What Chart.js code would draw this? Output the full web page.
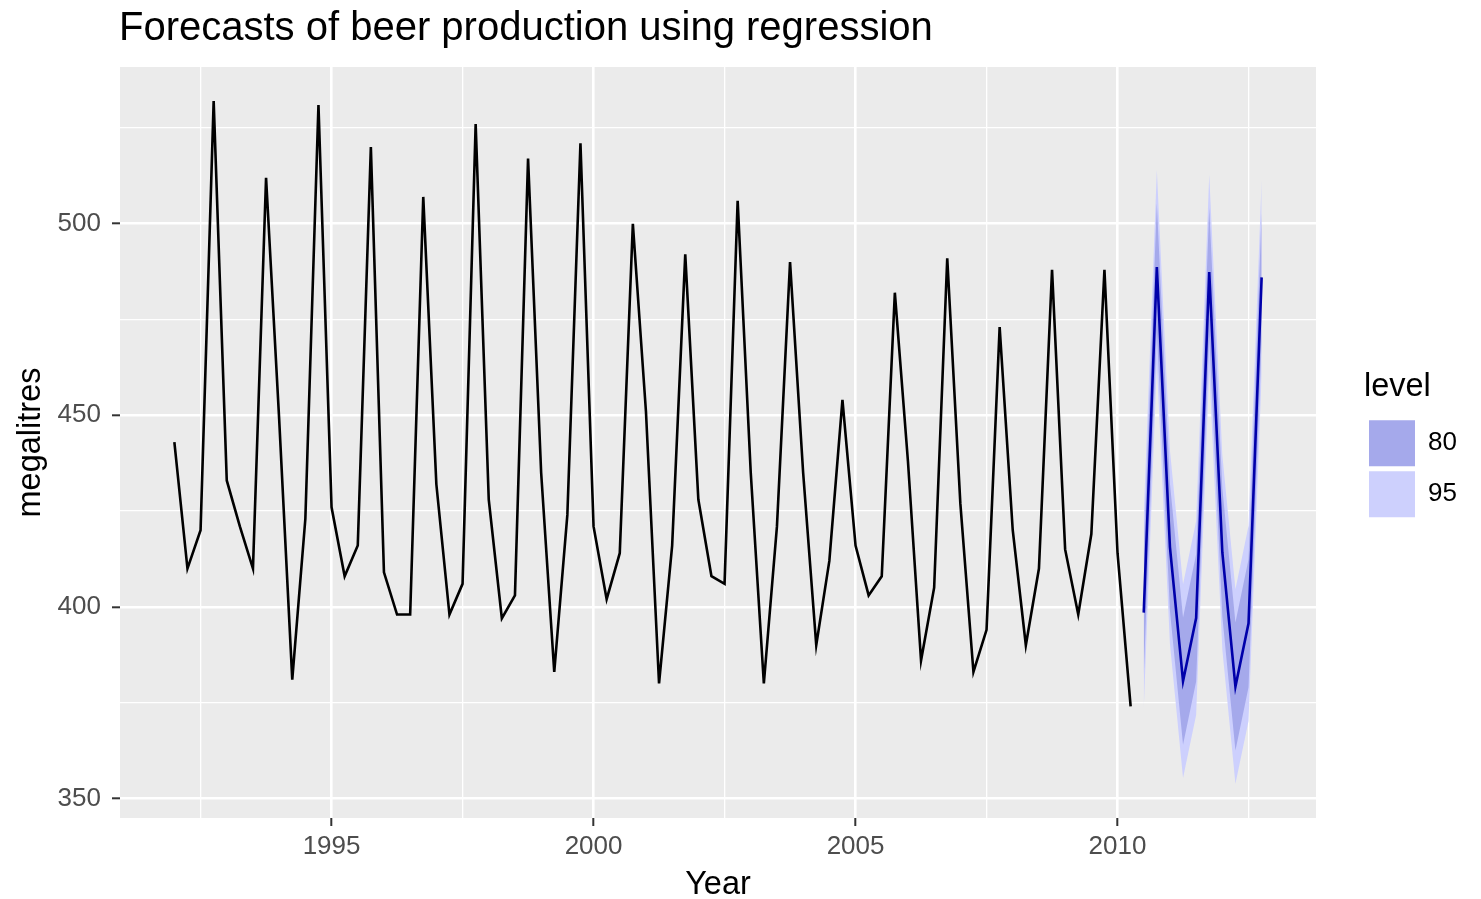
<!DOCTYPE html>
<html>
<head>
<meta charset="utf-8">
<title>Forecasts of beer production using regression</title>
<script src="https://cdn.jsdelivr.net/npm/chart.js@4.4.1/dist/chart.umd.min.js"></script>
<style>
  html, body { margin: 0; padding: 0; background: #ffffff; }
  canvas { display: block; }
</style>
</head>
<body>
<canvas id="chart" width="1481" height="899"></canvas>
<script>
// Australian quarterly beer production (megalitres), 1992 Q1 to 2010 Q2
const startYear = 1992;
const beer = [
  443, 410, 420, 532,  433, 421, 410, 512,  449, 381, 423, 531,
  426, 408, 416, 520,  409, 398, 398, 507,  432, 398, 406, 526,
  428, 397, 403, 517,  435, 383, 424, 521,  421, 402, 414, 500,
  451, 380, 416, 492,  428, 408, 406, 506,  435, 380, 421, 490,
  435, 390, 412, 454,  416, 403, 408, 482,  438, 386, 405, 491,
  427, 383, 394, 473,  420, 390, 410, 488,  415, 398, 419, 488,
  414, 374
];

// Regression forecasts (trend + season), 2010 Q3 to 2012 Q4
const forecastStart = 2010.5;
const fcPoint = [398.5, 488.7, 415.6, 380.6, 397.1, 487.4, 414.2, 379.2, 395.7, 486.0];
const lo80    = [381.9, 472.1, 399.0, 364.0, 380.5, 470.7, 397.5, 362.5, 379.0, 469.2];
const hi80    = [415.1, 505.3, 432.2, 397.2, 413.7, 504.1, 430.9, 395.9, 412.4, 502.8];
const lo95    = [373.2, 463.4, 390.3, 355.3, 371.8, 462.0, 388.8, 353.8, 370.2, 460.5];
const hi95    = [423.8, 514.0, 440.9, 405.9, 422.4, 512.8, 439.6, 404.6, 421.2, 511.5];

// Interval levels shown in the legend
const levels = ['80', '95'];

// Axis ticks
const xMajorTicks = [1995, 2000, 2005, 2010];
const xMinorTicks = [1992.5, 1997.5, 2002.5, 2007.5, 2012.5];
const yMajorTicks = [350, 400, 450, 500];
const yMinorTicks = [375, 425, 475, 525];

// ---------------------------------------------------------------------------
const FONT = "'Liberation Sans', Arial, Helvetica, sans-serif";
const COL_80 = '#A5A9EB';
const COL_95 = '#CDD0FD';
const COL_FC = '#0000AA';

const quarterly = (start, values) => values.map((v, i) => ({ x: start + i / 4, y: v }));

const beerPts = quarterly(startYear, beer);
const fcPts   = quarterly(forecastStart, fcPoint);
const lo80Pts = quarterly(forecastStart, lo80);
const hi80Pts = quarterly(forecastStart, hi80);
const lo95Pts = quarterly(forecastStart, lo95);
const hi95Pts = quarterly(forecastStart, hi95);

// Continuous scale limits padded by 5% of the data range on each side
function expandRange(values) {
  const lo = Math.min(...values), hi = Math.max(...values);
  const pad = (hi - lo) * 0.05;
  return [lo - pad, hi + pad];
}
const allPts = [...beerPts, ...fcPts, ...lo95Pts, ...hi95Pts];
const xRange = expandRange(allPts.map(p => p.x));
const yRange = expandRange(allPts.map(p => p.y));

const isMajor = (list, v) => list.some(m => Math.abs(m - v) < 1e-9);

function gridOptions(majors) {
  return {
    color: '#ffffff',
    lineWidth: c => (c.tick && isMajor(majors, c.tick.value)) ? 2.6 : 1.3,
    drawTicks: true,
    tickLength: 8,
    tickWidth: 2,
    tickColor: c => (c.tick && isMajor(majors, c.tick.value)) ? '#333333' : 'rgba(0,0,0,0)'
  };
}

// Grey panel behind the plot, and placement of the title and legend blocks
const panelPlugin = {
  id: 'panel',
  afterLayout(chart) {
    const area = chart.chartArea;
    const t = chart.titleBlock;
    if (t) {
      const w = t.right - t.left;
      t.left = area.left - 1;
      t.right = t.left + w;
    }
    const lg = chart.legend;
    if (lg) {
      const w = lg.width;
      lg.left = area.right + 48;
      lg.right = lg.left + w;
      lg.top -= 3.25;
      lg.bottom -= 3.25;
    }
  },
  beforeDraw(chart) {
    const { ctx, chartArea: a } = chart;
    ctx.save();
    ctx.fillStyle = '#ffffff';
    ctx.fillRect(0, 0, chart.width, chart.height);
    ctx.fillStyle = '#EBEBEB';
    ctx.fillRect(a.left, a.top, a.right - a.left, a.bottom - a.top);
    ctx.restore();
  }
};

const lineBase = { pointRadius: 0, pointHoverRadius: 0, tension: 0, fill: false };

new Chart(document.getElementById('chart'), {
  type: 'line',
  data: {
    datasets: [
      { ...lineBase, label: 'beer', data: beerPts, borderColor: '#000000', borderWidth: 2.6 },
      { ...lineBase, label: 'forecast', data: fcPts, borderColor: COL_FC, borderWidth: 2.6 },
      { ...lineBase, label: levels[0], data: hi80Pts, borderColor: 'transparent', borderWidth: 0,
        backgroundColor: COL_80, fill: '+1' },
      { ...lineBase, label: 'lo80', data: lo80Pts, borderColor: 'transparent', borderWidth: 0 },
      { ...lineBase, label: levels[1], data: hi95Pts, borderColor: 'transparent', borderWidth: 0,
        backgroundColor: COL_95, fill: '+1' },
      { ...lineBase, label: 'lo95', data: lo95Pts, borderColor: 'transparent', borderWidth: 0 }
    ]
  },
  options: {
    responsive: false,
    animation: false,
    events: [],
    layout: { padding: { left: 0, right: 65, top: 0, bottom: 0 } },
    scales: {
      x: {
        type: 'linear',
        min: xRange[0],
        max: xRange[1],
        afterBuildTicks: s => {
          s.ticks = [...xMinorTicks, ...xMajorTicks].sort((a, b) => a - b).map(v => ({ value: v }));
        },
        afterFit: s => { s.height = 81; },
        ticks: {
          autoSkip: false,
          maxRotation: 0,
          minRotation: 0,
          padding: 5,
          color: '#4D4D4D',
          font: { family: FONT, size: 26 },
          callback: v => isMajor(xMajorTicks, v) ? String(v) : ''
        },
        grid: gridOptions(xMajorTicks),
        border: { display: false },
        title: {
          display: true, text: 'Year', color: '#000000',
          font: { family: FONT, size: 32.5, lineHeight: 1 },
          padding: { top: 0, bottom: -2.5 }
        }
      },
      y: {
        type: 'linear',
        min: yRange[0],
        max: yRange[1],
        afterBuildTicks: s => {
          s.ticks = [...yMajorTicks, ...yMinorTicks].sort((a, b) => a - b).map(v => ({ value: v }));
        },
        afterFit: s => { s.width = 120; },
        ticks: {
          autoSkip: false,
          padding: 11,
          color: '#4D4D4D',
          font: { family: FONT, size: 26 },
          callback: v => isMajor(yMajorTicks, v) ? String(v) : ''
        },
        grid: gridOptions(yMajorTicks),
        border: { display: false },
        title: {
          display: true, text: 'megalitres', color: '#000000',
          font: { family: FONT, size: 32.5, lineHeight: 1 },
          padding: { top: 15, bottom: 0 }
        }
      }
    },
    plugins: {
      title: {
        display: true,
        text: 'Forecasts of beer production using regression',
        align: 'start',
        color: '#000000',
        font: { family: FONT, size: 40, weight: 'normal', lineHeight: 1 },
        padding: { top: 9, bottom: 18 }
      },
      legend: {
        display: true,
        position: 'right',
        align: 'center',
        maxWidth: 100,
        title: {
          display: true, text: 'level', position: 'start', color: '#000000',
          font: { family: FONT, size: 32.5, lineHeight: 1.2 },
          padding: { top: 0, bottom: 5.75 }
        },
        labels: {
          boxWidth: 46,
          boxHeight: 46,
          padding: 5,
          color: '#000000',
          font: { family: FONT, size: 26 },
          filter: item => levels.includes(item.text)
        }
      },
      tooltip: { enabled: false }
    }
  },
  plugins: [panelPlugin]
});
</script>
</body>
</html>
